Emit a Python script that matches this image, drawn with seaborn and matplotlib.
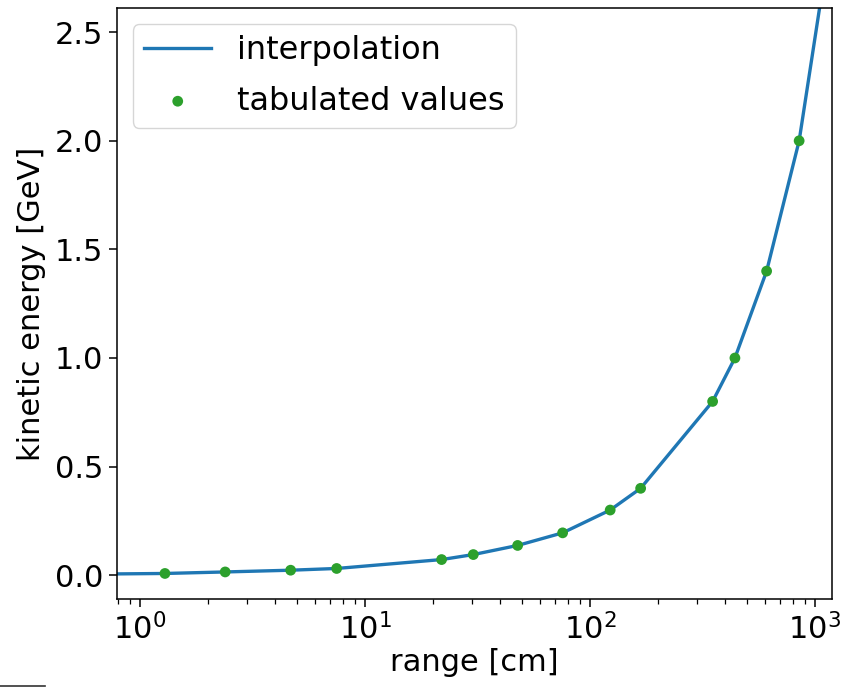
import numpy as np
import pandas as pd
import matplotlib
matplotlib.use("Agg")
import matplotlib.pyplot as plt
import seaborn as sns
from matplotlib.lines import Line2D

# tabulated values
range_cm = [1.29, 2.39, 4.67, 7.48, 21.9, 30.3, 47.7, 75.6, 123, 168, 351, 441, 610, 851]
energy_gev = [0.008, 0.015, 0.023, 0.031, 0.072, 0.095, 0.137, 0.195, 0.30, 0.40, 0.80, 1.0, 1.4, 2.0]

# interpolation curve as drawn (includes the ends beyond the table)
line_x = [0.79] + range_cm + [1100]
line_y = [0.006] + energy_gev + [2.75]

df_pts = pd.DataFrame({"range": range_cm, "energy": energy_gev})
df_line = pd.DataFrame({"range": line_x, "energy": line_y})

plt.rcParams["font.family"] = ["DejaVu Sans"]
fs = 22

fig = plt.figure(figsize=(8.42, 6.91), dpi=100)
ax = fig.add_axes([0.139, 0.133, 0.849, 0.855])

sns.lineplot(data=df_line, x="range", y="energy", ax=ax, color="#1f77b4",
             linewidth=2.4, label="interpolation", sort=False)
sns.scatterplot(data=df_pts, x="range", y="energy", ax=ax, color="#2ca02c",
                s=60, edgecolor="none", label="tabulated values", zorder=3)

ax.set_xscale("log")
ax.set_xlim(0.79, 1190)
ax.set_ylim(-0.11, 2.61)
ax.set_yticks([0.0, 0.5, 1.0, 1.5, 2.0, 2.5])
ax.set_xlabel("range [cm]", fontsize=fs, labelpad=2)
ax.set_ylabel("kinetic energy [GeV]", fontsize=fs, labelpad=6)
ax.tick_params(axis="both", labelsize=fs, length=6, width=1.1, pad=4)
ax.tick_params(axis="x", which="minor", length=3.5, width=0.9)
for s in ax.spines.values():
    s.set_linewidth(1.1)

ax.legend(loc="upper left", fontsize=23, frameon=True, framealpha=0.8,
          handlelength=2.1, borderpad=0.35, borderaxespad=0.5,
          labelspacing=0.6, handletextpad=0.8)

fig.add_artist(Line2D([0.0, 0.054], [0.007, 0.007], transform=fig.transFigure,
                      color="#333333", linewidth=1.2))

fig.savefig("out.png", dpi=100)
